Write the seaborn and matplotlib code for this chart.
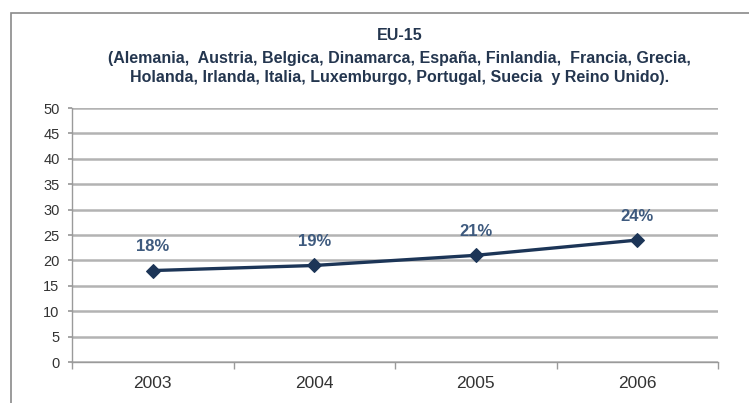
import matplotlib
matplotlib.use("Agg")
import matplotlib.pyplot as plt
import seaborn as sns
import pandas as pd
from matplotlib.patches import Rectangle

years = ["2003", "2004", "2005", "2006"]
shares = [18, 19, 21, 24]
point_labels = ["18%", "19%", "21%", "24%"]
y_ticks = [0, 5, 10, 15, 20, 25, 30, 35, 40, 45, 50]

title_lines = [
    "EU-15",
    "(Alemania,  Austria, Belgica, Dinamarca, España, Finlandia,  Francia, Grecia,",
    "Holanda, Irlanda, Italia, Luxemburgo, Portugal, Suecia  y Reino Unido).",
]

sns.set_theme(style="white")
plt.rcParams["font.family"] = ["Liberation Sans", "DejaVu Sans"]

df = pd.DataFrame({"year": years, "share": shares})

W, H = 749, 403
fig = plt.figure(figsize=(W / 100, H / 100), dpi=100)
ax = fig.add_axes([72 / W, 1 - 362 / H, (718 - 72) / W, (362 - 108) / H])

# outer chart frame
fig.patches.append(Rectangle((11 / W, -0.05), 1.1, 1 - 13 / H + 0.05,
                             transform=fig.transFigure, fill=False,
                             edgecolor="#8a8a8a", linewidth=1.2, zorder=0))

line_color = "#1c3557"
sns.lineplot(data=df, x="year", y="share", ax=ax, color=line_color,
             linewidth=2.4, marker="D", markersize=7.5,
             markeredgecolor=line_color, markerfacecolor=line_color, sort=False)

for i, (v, lab) in enumerate(zip(shares, point_labels)):
    ax.annotate(lab, (i, v), xytext=(0, 17), textcoords="offset points",
                ha="center", va="center", fontsize=12, fontweight="bold",
                color="#3e5a7e")

ax.set_ylim(0, 50)
ax.set_xlim(-0.5, 3.5)
ax.set_yticks(y_ticks)
ax.yaxis.grid(True, color="#b3b3b3", linewidth=1.8)
ax.set_axisbelow(True)

for side in ("top", "right"):
    ax.spines[side].set_visible(False)
ax.spines["left"].set_color("#9a9a9a")
ax.spines["bottom"].set_color("#9a9a9a")
ax.spines["left"].set_linewidth(1.0)
ax.spines["bottom"].set_linewidth(1.0)

ax.set_xticks(range(len(years)))
ax.set_xticklabels(years)
ax.set_xticks([-0.5, 0.5, 1.5, 2.5, 3.5], minor=True)
ax.tick_params(axis="x", which="major", length=0, pad=10, labelsize=12.5,
               labelcolor="#333333")
ax.tick_params(axis="x", which="minor", length=5, color="#9a9a9a",
               direction="out", bottom=True)
ax.tick_params(axis="y", length=3, color="#9a9a9a", direction="out",
               left=True, labelsize=10.5, labelcolor="#333333", pad=6)
ax.set_xlabel("")
ax.set_ylabel("")

title_color = "#24364f"
cx = 0.5 + 25 / W
for text, ypx in zip(title_lines, (36, 58.5, 77.5)):
    fig.text(cx, 1 - ypx / H, text, ha="center", va="center",
             fontsize=11.5, fontweight="bold", color=title_color)

fig.savefig("out.png", dpi=100, facecolor="white")
